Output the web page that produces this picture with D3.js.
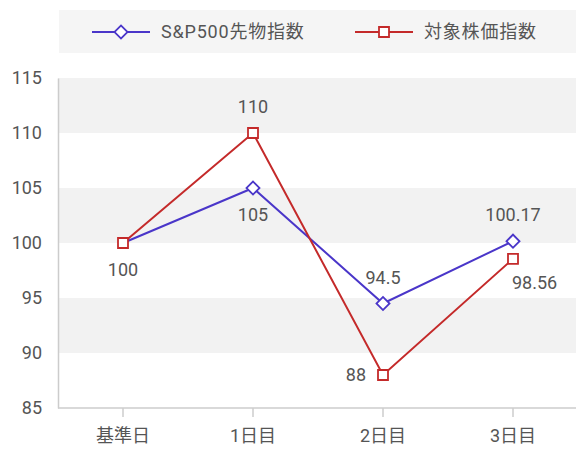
<!DOCTYPE html>
<html>
<head>
<meta charset="utf-8">
<script src="https://cdn.jsdelivr.net/npm/d3@7"></script>
<style>
  body { margin: 0; background: #fff; }
  svg text { font-family: Roboto, "Noto Sans CJK JP", sans-serif; fill: #555; }
</style>
</head>
<body>
<svg id="chart" width="576" height="450"></svg>
<script>
// Chart data
const categories = ["基準日", "1日目", "2日目", "3日目"];
const spValues = [100, 105, 94.5, 100.17];
const stockValues = [100, 110, 88, 98.56];
const yTicks = [85, 90, 95, 100, 105, 110, 115];
const seriesNames = ["S&P500先物指数", "対象株価指数"];

// Where each value label sits relative to its point
const spLabelPlace = ["below", "below", "above", "above"];
const stockLabelPlace = [null, "above", "left", "belowRight"];

const blue = "#4a36c9";
const red = "#c42a2a";
const fontSize = "18px";

const margin = {left: 58, top: 78, bottom: 42};
const width = 520;
const height = 450 - margin.top - margin.bottom;

const svg = d3.select("#chart");

// Scales
const xScale = d3.scaleBand().domain(categories).range([margin.left, margin.left + width]);
const yScale = d3.scaleLinear().domain([85, 115]).range([margin.top + height, margin.top]);
const xPos = d => xScale(d) + xScale.bandwidth() / 2;

// Alternate background bands
const bands = d3.pairs(yTicks).filter((p, i) => i % 2 === 1);
svg.selectAll("rect.band")
    .data(bands)
    .enter()
    .append("rect")
    .attr("x", margin.left)
    .attr("width", 576 - margin.left)
    .attr("y", d => yScale(d[1]))
    .attr("height", d => yScale(d[0]) - yScale(d[1]))
    .attr("fill", "#f2f2f2");

// Y axis
const yAxis = svg.append("g")
    .attr("transform", "translate(" + margin.left + ",0)")
    .call(d3.axisLeft(yScale).tickValues(yTicks).tickSize(0).tickPadding(16));
yAxis.select(".domain").attr("stroke", "#ccc").attr("stroke-width", 1.5);
yAxis.selectAll("text").style("font-size", fontSize).attr("fill", "#555");

// X axis
const xAxis = svg.append("g")
    .attr("transform", "translate(0," + (margin.top + height) + ")")
    .call(d3.axisBottom(xScale).tickSize(9).tickSizeOuter(0).tickPadding(12));
xAxis.select(".domain").attr("stroke", "#ccc").attr("stroke-width", 1.5).attr("d", "M" + margin.left + ",0H576");
xAxis.selectAll(".tick line").attr("stroke", "#ccc").attr("stroke-width", 1.5);
xAxis.selectAll("text").style("font-size", fontSize).attr("fill", "#444");

// Series (diamond = square turned 45 degrees)
const series = [
    {name: seriesNames[0], values: spValues, color: blue, size: 85, rotate: 45, labels: spLabelPlace},
    {name: seriesNames[1], values: stockValues, color: red, size: 100, rotate: 0, labels: stockLabelPlace}
];

const line = d3.line()
    .x((d, i) => xPos(categories[i]))
    .y(d => yScale(d));

series.forEach(s => {
    svg.append("path")
        .datum(s.values)
        .attr("fill", "none")
        .attr("stroke", s.color)
        .attr("stroke-width", 2)
        .attr("d", line);
});

// Markers; where both series share a point only the red square shows
series.forEach((s, si) => {
    const pts = s.values
        .map((v, i) => ({v, i}))
        .filter(p => si === 1 || p.v !== stockValues[p.i]);
    svg.selectAll(null)
        .data(pts)
        .enter()
        .append("path")
        .attr("d", d3.symbol().type(d3.symbolSquare).size(s.size))
        .attr("transform", p => "translate(" + xPos(categories[p.i]) + "," + yScale(p.v) + ") rotate(" + s.rotate + ")")
        .attr("fill", "#fff")
        .attr("stroke", s.color)
        .attr("stroke-width", 1.8);
});

// Value labels
series.forEach(s => {
    s.values.forEach((v, i) => {
        const place = s.labels[i];
        if (!place) return;
        const px = xPos(categories[i]);
        const py = yScale(v);
        let x = px, y = py, anchor = "middle";
        if (place === "above") y = py - 26;
        if (place === "below") y = py + 27;
        if (place === "left") { x = px - 17; anchor = "end"; }
        if (place === "belowRight") { x = px - 1; y = py + 24; anchor = "start"; }
        svg.append("text")
            .attr("x", x)
            .attr("y", y)
            .attr("dy", "0.35em")
            .attr("text-anchor", anchor)
            .style("font-size", fontSize)
            .attr("fill", "#444")
            .text(v);
    });
});

// Legend
const legend = svg.append("g");
legend.append("rect")
    .attr("x", 59).attr("y", 10)
    .attr("width", 576 - 59).attr("height", 43)
    .attr("fill", "#f5f5f5");

const legendX = [92, 355];
series.forEach((s, i) => {
    const g = legend.append("g").attr("transform", "translate(" + legendX[i] + ",32)");
    g.append("line")
        .attr("x1", 0).attr("x2", 58)
        .attr("stroke", s.color).attr("stroke-width", 2);
    g.append("path")
        .attr("d", d3.symbol().type(d3.symbolSquare).size(s.size))
        .attr("transform", "translate(29,0) rotate(" + s.rotate + ")")
        .attr("fill", "#fff")
        .attr("stroke", s.color)
        .attr("stroke-width", 1.8);
    g.append("text")
        .attr("x", 69)
        .attr("dy", "0.35em")
        .style("font-size", fontSize)
        .style("letter-spacing", "0.8px")
        .attr("fill", "#444")
        .text(s.name);
});
</script>
</body>
</html>
